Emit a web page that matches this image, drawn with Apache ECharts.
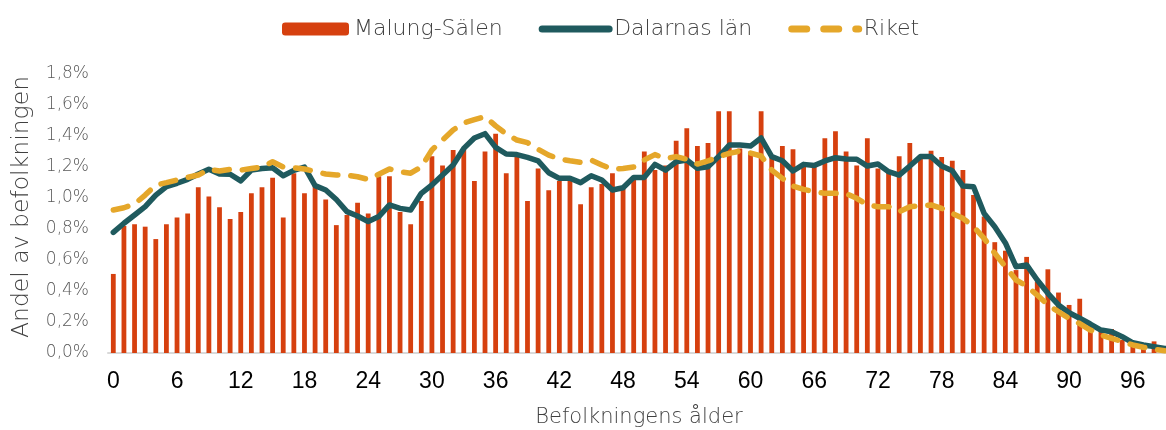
<!DOCTYPE html>
<html>
<head>
<meta charset="utf-8">
<script src="https://cdn.jsdelivr.net/npm/echarts@6/dist/echarts.min.js"></script>
<style>
html,body{margin:0;padding:0;background:#fff;}
#chart{width:1166px;height:430px;}
</style>
</head>
<body>
<div id="chart"></div>
<script>
// Ages 0..99
const ages = Array.from({length: 100}, (_, i) => String(i));

const seriesNames = ['Malung-Sälen', 'Dalarnas län', 'Riket'];

// Share of population (%) per age
const malung = [
  0.51, 0.82, 0.83, 0.815, 0.735, 0.83, 0.875, 0.90, 1.07, 1.01,
  0.94, 0.865, 0.91, 1.03, 1.07, 1.13, 0.875, 1.16, 1.03, 1.08,
  0.99, 0.825, 0.89, 0.97, 0.90, 1.14, 1.14, 0.91, 0.83, 0.98,
  1.27, 1.21, 1.31, 1.32, 1.11, 1.30, 1.415, 1.16, 1.27, 0.98,
  1.19, 1.05, 1.11, 1.11, 0.96, 1.07, 1.09, 1.16, 1.06, 1.12,
  1.30, 1.18, 1.21, 1.37, 1.45, 1.335, 1.355, 1.56, 1.56, 1.32,
  1.30, 1.56, 1.27, 1.335, 1.315, 1.20, 1.20, 1.385, 1.43, 1.30,
  1.21, 1.385, 1.19, 1.18, 1.27, 1.355, 1.27, 1.305, 1.265, 1.24,
  1.18, 1.02, 0.88, 0.715, 0.66, 0.535, 0.62, 0.46, 0.54, 0.39,
  0.31, 0.35, 0.19, 0.155, 0.155, 0.085, 0.06, 0.03, 0.075, 0.0
];

const dalarna = [
  0.778, 0.837, 0.89, 0.944, 1.019, 1.073, 1.095, 1.12, 1.155, 1.185,
  1.155, 1.153, 1.11, 1.18, 1.19, 1.195, 1.144, 1.178, 1.2, 1.08,
  1.052, 0.99, 0.912, 0.884, 0.848, 0.88, 0.955, 0.933, 0.923, 1.03,
  1.084, 1.148, 1.213, 1.32, 1.387, 1.415, 1.327, 1.284, 1.28, 1.262,
  1.24, 1.163, 1.127, 1.127, 1.099, 1.144, 1.116, 1.052, 1.066, 1.133,
  1.133, 1.217, 1.18, 1.234, 1.245, 1.192, 1.202, 1.267, 1.342, 1.342,
  1.335, 1.387, 1.267, 1.24, 1.174, 1.217, 1.209, 1.239, 1.26, 1.252,
  1.25, 1.206, 1.219, 1.17, 1.148, 1.206, 1.267, 1.267, 1.206, 1.176,
  1.077, 1.073, 0.90, 0.815, 0.71, 0.557, 0.568, 0.471, 0.385, 0.31,
  0.26, 0.224, 0.187, 0.148, 0.137, 0.105, 0.066, 0.052, 0.041, 0.03
];

const riket = [
  0.923, 0.937, 0.961, 1.019, 1.084, 1.099, 1.116, 1.133, 1.148, 1.185,
  1.174, 1.185, 1.18, 1.19, 1.2, 1.234, 1.2, 1.195, 1.187, 1.17,
  1.155, 1.148, 1.148, 1.137, 1.12, 1.153, 1.187, 1.17, 1.16, 1.2,
  1.31, 1.374, 1.439, 1.484, 1.505, 1.525, 1.465, 1.413, 1.374, 1.357,
  1.314, 1.277, 1.252, 1.24, 1.23, 1.245, 1.213, 1.185, 1.19, 1.2,
  1.245, 1.28, 1.254, 1.267, 1.25, 1.219, 1.239, 1.267, 1.288, 1.303,
  1.29, 1.271, 1.18, 1.127, 1.077, 1.056, 1.04, 1.03, 1.03, 1.028,
  0.998, 0.955, 0.944, 0.944, 0.912, 0.944, 0.95, 0.955, 0.933, 0.90,
  0.869, 0.815, 0.74, 0.643, 0.557, 0.471, 0.432, 0.374, 0.31, 0.266,
  0.224, 0.19, 0.148, 0.116, 0.095, 0.073, 0.052, 0.037, 0.024, 0.015
];

const chart = echarts.init(document.getElementById('chart'), null, {renderer: 'canvas'});
const txtFont = 'DejaVu Sans';
const cBar = '#d6400f', cDal = '#1f5a5e', cRik = '#e5a72a';

chart.setOption({
  animation: false,
  backgroundColor: '#ffffff',
  legend: {
    top: 13,
    left: 277,
    itemWidth: 67,
    itemHeight: 13,
    itemGap: 36,
    textStyle: {fontFamily: txtFont, fontSize: 22, color: '#404040', fontWeight: 300},
    data: [
      {name: seriesNames[0]},
      {name: seriesNames[1], itemStyle: {opacity: 0},
       lineStyle: {width: 7, cap: 'round', color: cDal}},
      {name: seriesNames[2], itemStyle: {opacity: 0},
       lineStyle: {width: 7, cap: 'round', color: cRik, type: [15, 17]}}
    ]
  },
  grid: {left: 108, width: 1062, top: 74, height: 279, containLabel: false, outerBoundsMode: 'none'},
  xAxis: {
    type: 'category',
    data: ages,
    boundaryGap: true,
    name: 'Befolkningens ålder',
    nameLocation: 'middle',
    nameGap: 54,
    nameTextStyle: {fontFamily: txtFont, fontSize: 21, color: '#404040', fontWeight: 300},
    axisLine: {show: true, lineStyle: {color: '#d9d9d9', width: 2}},
    axisTick: {show: false},
    axisLabel: {interval: 5, fontFamily: 'Liberation Sans', fontSize: 23, color: '#000', margin: 17}
  },
  yAxis: {
    type: 'value',
    min: 0,
    max: 1.8,
    interval: 0.2,
    name: 'Andel av befolkningen',
    nameLocation: 'middle',
    nameGap: 74,
    nameRotate: 90,
    nameTextStyle: {fontFamily: txtFont, fontSize: 23.5, color: '#404040', fontWeight: 300,
      padding: [0, 0, 0, 13]},
    splitLine: {show: false},
    axisLine: {show: false},
    axisTick: {show: false},
    axisLabel: {
      fontFamily: txtFont, fontSize: 17, color: '#595959', margin: 19, fontWeight: 300,
      formatter: v => v.toFixed(1).replace('.', ',') + '%'
    }
  },
  series: [
    {
      name: seriesNames[0],
      type: 'bar',
      data: malung,
      barWidth: 4.8,
      itemStyle: {color: cBar}
    },
    {
      name: seriesNames[1],
      type: 'line',
      data: dalarna,
      symbol: 'none',
      lineStyle: {color: cDal, width: 5.5, cap: 'round', join: 'round'},
      itemStyle: {color: cDal}
    },
    {
      name: seriesNames[2],
      type: 'line',
      data: riket,
      symbol: 'none',
      lineStyle: {color: cRik, width: 5.5, type: [15, 13], cap: 'round', join: 'round'},
      itemStyle: {color: cRik}
    }
  ]
});
</script>
</body>
</html>
